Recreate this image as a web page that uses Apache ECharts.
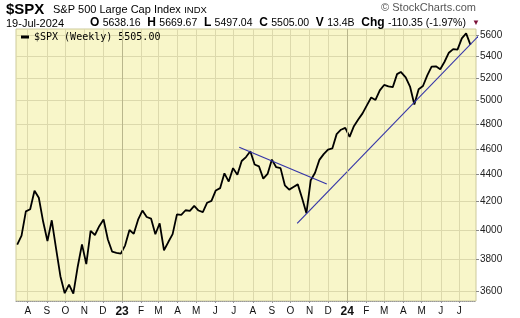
<!DOCTYPE html>
<html><head><meta charset="utf-8">
<script src="https://cdn.jsdelivr.net/npm/echarts@6/dist/echarts.min.js"></script>
<style>html,body{margin:0;padding:0;background:#fff}#c{width:520px;height:318px}</style>
</head><body><div id="c"></div>
<script>
const dates = ['2022-07-15','2022-07-22','2022-07-29','2022-08-05','2022-08-12','2022-08-19','2022-08-26','2022-09-02','2022-09-09','2022-09-16','2022-09-23','2022-09-30','2022-10-07','2022-10-14','2022-10-21','2022-10-28','2022-11-04','2022-11-11','2022-11-18','2022-11-25','2022-12-02','2022-12-09','2022-12-16','2022-12-23','2022-12-30',
'2023-01-06','2023-01-13','2023-01-20','2023-01-27','2023-02-03','2023-02-10','2023-02-17','2023-02-24','2023-03-03','2023-03-10','2023-03-17','2023-03-24','2023-03-31','2023-04-07','2023-04-14','2023-04-21','2023-04-28','2023-05-05','2023-05-12','2023-05-19','2023-05-26','2023-06-02','2023-06-09','2023-06-16','2023-06-23','2023-06-30','2023-07-07','2023-07-14','2023-07-21','2023-07-28','2023-08-04','2023-08-11','2023-08-18','2023-08-25','2023-09-01','2023-09-08','2023-09-15','2023-09-22','2023-09-29','2023-10-06','2023-10-13','2023-10-20','2023-10-27','2023-11-03','2023-11-10','2023-11-17','2023-11-24','2023-12-01','2023-12-08','2023-12-15','2023-12-22','2023-12-29',
'2024-01-05','2024-01-12','2024-01-19','2024-01-26','2024-02-02','2024-02-09','2024-02-16','2024-02-23','2024-03-01','2024-03-08','2024-03-15','2024-03-22','2024-03-28','2024-04-05','2024-04-12','2024-04-19','2024-04-26','2024-05-03','2024-05-10','2024-05-17','2024-05-24','2024-05-31','2024-06-07','2024-06-14','2024-06-21','2024-06-28','2024-07-05','2024-07-12','2024-07-19'];
const closes = [3900,3961,4130,4145,4280,4228,4058,3924,4067,3873,3693,3586,3640,3583,3752,3901,3771,3993,3965,4026,4072,3934,3852,3845,3840,
3895,3999,3973,4071,4136,4090,4079,3970,4046,3862,3917,3971,4109,4105,4138,4133,4169,4136,4124,4192,4205,4282,4299,4410,4348,4450,4399,4505,4536,4582,4478,4464,4370,4406,4516,4457,4450,4320,4288,4308,4327,4224,4117,4358,4415,4514,4559,4595,4604,4719,4755,4770,
4697,4784,4840,4891,4959,5027,5006,5089,5137,5124,5117,5234,5254,5204,5123,4967,5100,5128,5223,5303,5305,5278,5347,5431,5465,5460,5567,5615,5505];
const trendDownDates = ['2023-07-10','2023-11-29'];
const trendDownValues = [4613,4330];
const trendUpDates = ['2023-10-12','2024-08-12'];
const trendUpValues = [4045,5658];
const yTicks = [3600,3800,4000,4200,4400,4600,4800,5000,5200,5400,5600];
const monthLetters = ['J','F','M','A','M','J','J','A','S','O','N','D'];

const ts = s => { const p = s.split('-').map(Number); return Date.UTC(p[0], p[1]-1, p[2]); };
const xTicks = [];
for (let y = 2022, m = 7; y < 2024 || m <= 6; ) { xTicks.push(Date.UTC(y, m, 1)); m++; if (m > 11) { m = 0; y++; } }
const yearLines = [Date.UTC(2023,0,1), Date.UTC(2024,0,1)];

const chart = echarts.init(document.getElementById('c'));
const F = 'Liberation Sans, Arial, sans-serif';
chart.setOption({
  animation: false,
  backgroundColor: '#fff',
  grid: { left: 16, right: 44, top: 29, bottom: 16, show: true, backgroundColor: '#f8f6c9', borderColor: '#cdca9c', borderWidth: 1 },
  legend: { show: true, data: ['$SPX (Weekly) 5505.00'], left: 16, top: 27, icon: 'rect', itemWidth: 8, itemHeight: 3, itemGap: 4,
    textStyle: { fontFamily: 'DejaVu Sans Mono, monospace', fontSize: 10, color: '#000' } },
  xAxis: {
    type: 'value', min: ts('2022-07-13'), max: ts('2024-07-28'),
    axisLine: { show: true, lineStyle: { color: '#999', type: 'dotted' } },
    axisTick: { show: true, customValues: xTicks, length: 2, lineStyle: { color: '#999' } },
    splitLine: { show: true, lineStyle: { color: '#dcd9ac', width: 1 } },
    axisLabel: { customValues: xTicks, margin: 5, fontFamily: F, fontSize: 10, color: '#111',
      formatter: v => { const d = new Date(v); return d.getUTCMonth() === 0 ? '{y|' + String(d.getUTCFullYear()).slice(2) + '}' : monthLetters[d.getUTCMonth()]; },
      rich: { y: { fontFamily: F, fontSize: 12, fontWeight: 'bold', color: '#111' } } }
  },
  yAxis: {
    type: 'log', position: 'right', min: 3538, max: 5658,
    axisLine: { show: false },
    axisTick: { show: true, customValues: yTicks, length: 3, lineStyle: { color: '#888' } },
    splitLine: { show: true, lineStyle: { color: '#dcd9ac', width: 1 } },
    axisLabel: { customValues: yTicks, margin: 4, fontFamily: F, fontSize: 10, color: '#222', formatter: v => String(Math.round(v)) }
  },
  series: [
    { name: '$SPX (Weekly) 5505.00', type: 'line', data: dates.map((d, i) => [ts(d), closes[i]]), showSymbol: false, symbol: 'none',
      lineStyle: { color: '#000', width: 1.8 }, itemStyle: { color: '#000' }, z: 3,
      markLine: { silent: true, symbol: 'none', label: { show: false }, lineStyle: { color: '#b9b68c', width: 1, type: 'solid' },
        data: yearLines.map(t => ({ xAxis: t })) } },
    { name: 'td', type: 'line', data: trendDownDates.map((d, i) => [ts(d), trendDownValues[i]]), symbol: 'none', clip: false,
      lineStyle: { color: '#3535a8', width: 1.2 }, z: 4 },
    { name: 'tu', type: 'line', data: trendUpDates.map((d, i) => [ts(d), trendUpValues[i]]), symbol: 'none', clip: false,
      lineStyle: { color: '#3535a8', width: 1.2 }, z: 4 }
  ],
  graphic: [
    { type: 'text', left: 6, top: 2, style: { text: '$SPX', font: 'bold 15px ' + F, fill: '#000' } },
    { type: 'text', left: 53, top: 4, style: { text: '{a|S&P 500 Large Cap Index} {b|INDX}', fill: '#000',
      rich: { a: { fontFamily: F, fontSize: 11, fill: '#000' }, b: { fontFamily: F, fontSize: 9.5, fill: '#000' } } } },
    { type: 'text', right: 44, top: 2, style: { text: '© StockCharts.com', font: '11px ' + F, fill: '#555' } },
    { type: 'text', left: 6, top: 18, style: { text: '19-Jul-2024', font: '11px ' + F, fill: '#000' } },
    { type: 'text', left: 90, top: 17, style: {
      text: '{k|O} {v|5638.16}  {k|H} {v|5669.67}  {k|L} {v|5497.04}  {k|C} {v|5505.00}  {k|V} {v|13.4B}  {k|Chg} {v|-110.35 (-1.97%)}',
      rich: { k: { fontFamily: F, fontSize: 12, fontWeight: 'bold', fill: '#000' }, v: { fontFamily: F, fontSize: 10.5, fill: '#000' } } } },
    { type: 'text', left: 472, top: 19, style: { text: '▼', font: '8px ' + F, fill: '#7a1038' } }
  ]
});
</script></body></html>
